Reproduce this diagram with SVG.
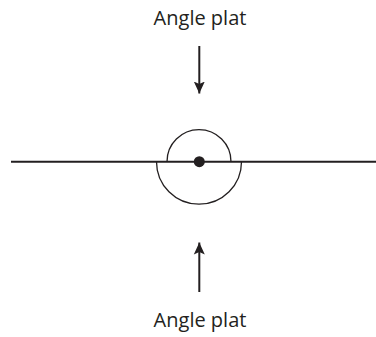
<svg xmlns="http://www.w3.org/2000/svg" width="376" height="337" viewBox="0 0 376 337">
<defs>
<style>
.lbl{font-family:"Open Sans","Liberation Sans",sans-serif;font-size:20px;fill:#231f20;text-anchor:middle}
.ln{stroke:#231f20;fill:none}
</style>
<marker id="ah" viewBox="0 0 12 14" refX="12" refY="7" markerWidth="12" markerHeight="14" markerUnits="userSpaceOnUse" orient="auto">
<path d="M0,1.5 L12,7 L0,12.5 L2.5,7 Z" fill="#231f20"/>
</marker>
</defs>
<rect width="376" height="337" fill="#fff"/>
<g id="figure">
<line class="ln" x1="11" y1="161.7" x2="376" y2="161.7" stroke-width="2"/>
<path class="ln" d="M167,161.7 A32,32 0 0 1 231,161.7" stroke-width="1.3"/>
<path class="ln" d="M156.5,161.7 A42.5,42.5 0 0 0 241.5,161.7" stroke-width="1.3"/>
<circle cx="199.3" cy="161.7" r="5.5" fill="#231f20"/>
</g>
<g id="label-top"><text class="lbl" x="200" y="25">Angle plat</text></g>
<g id="label-bottom"><text class="lbl" x="200" y="326.5">Angle plat</text></g>
<g id="connectors">
<line class="ln" x1="199.3" y1="46" x2="199.3" y2="93.5" stroke-width="2" marker-end="url(#ah)"/>
<line class="ln" x1="199.3" y1="292" x2="199.3" y2="242.5" stroke-width="2" marker-end="url(#ah)"/>
</g>
</svg>
